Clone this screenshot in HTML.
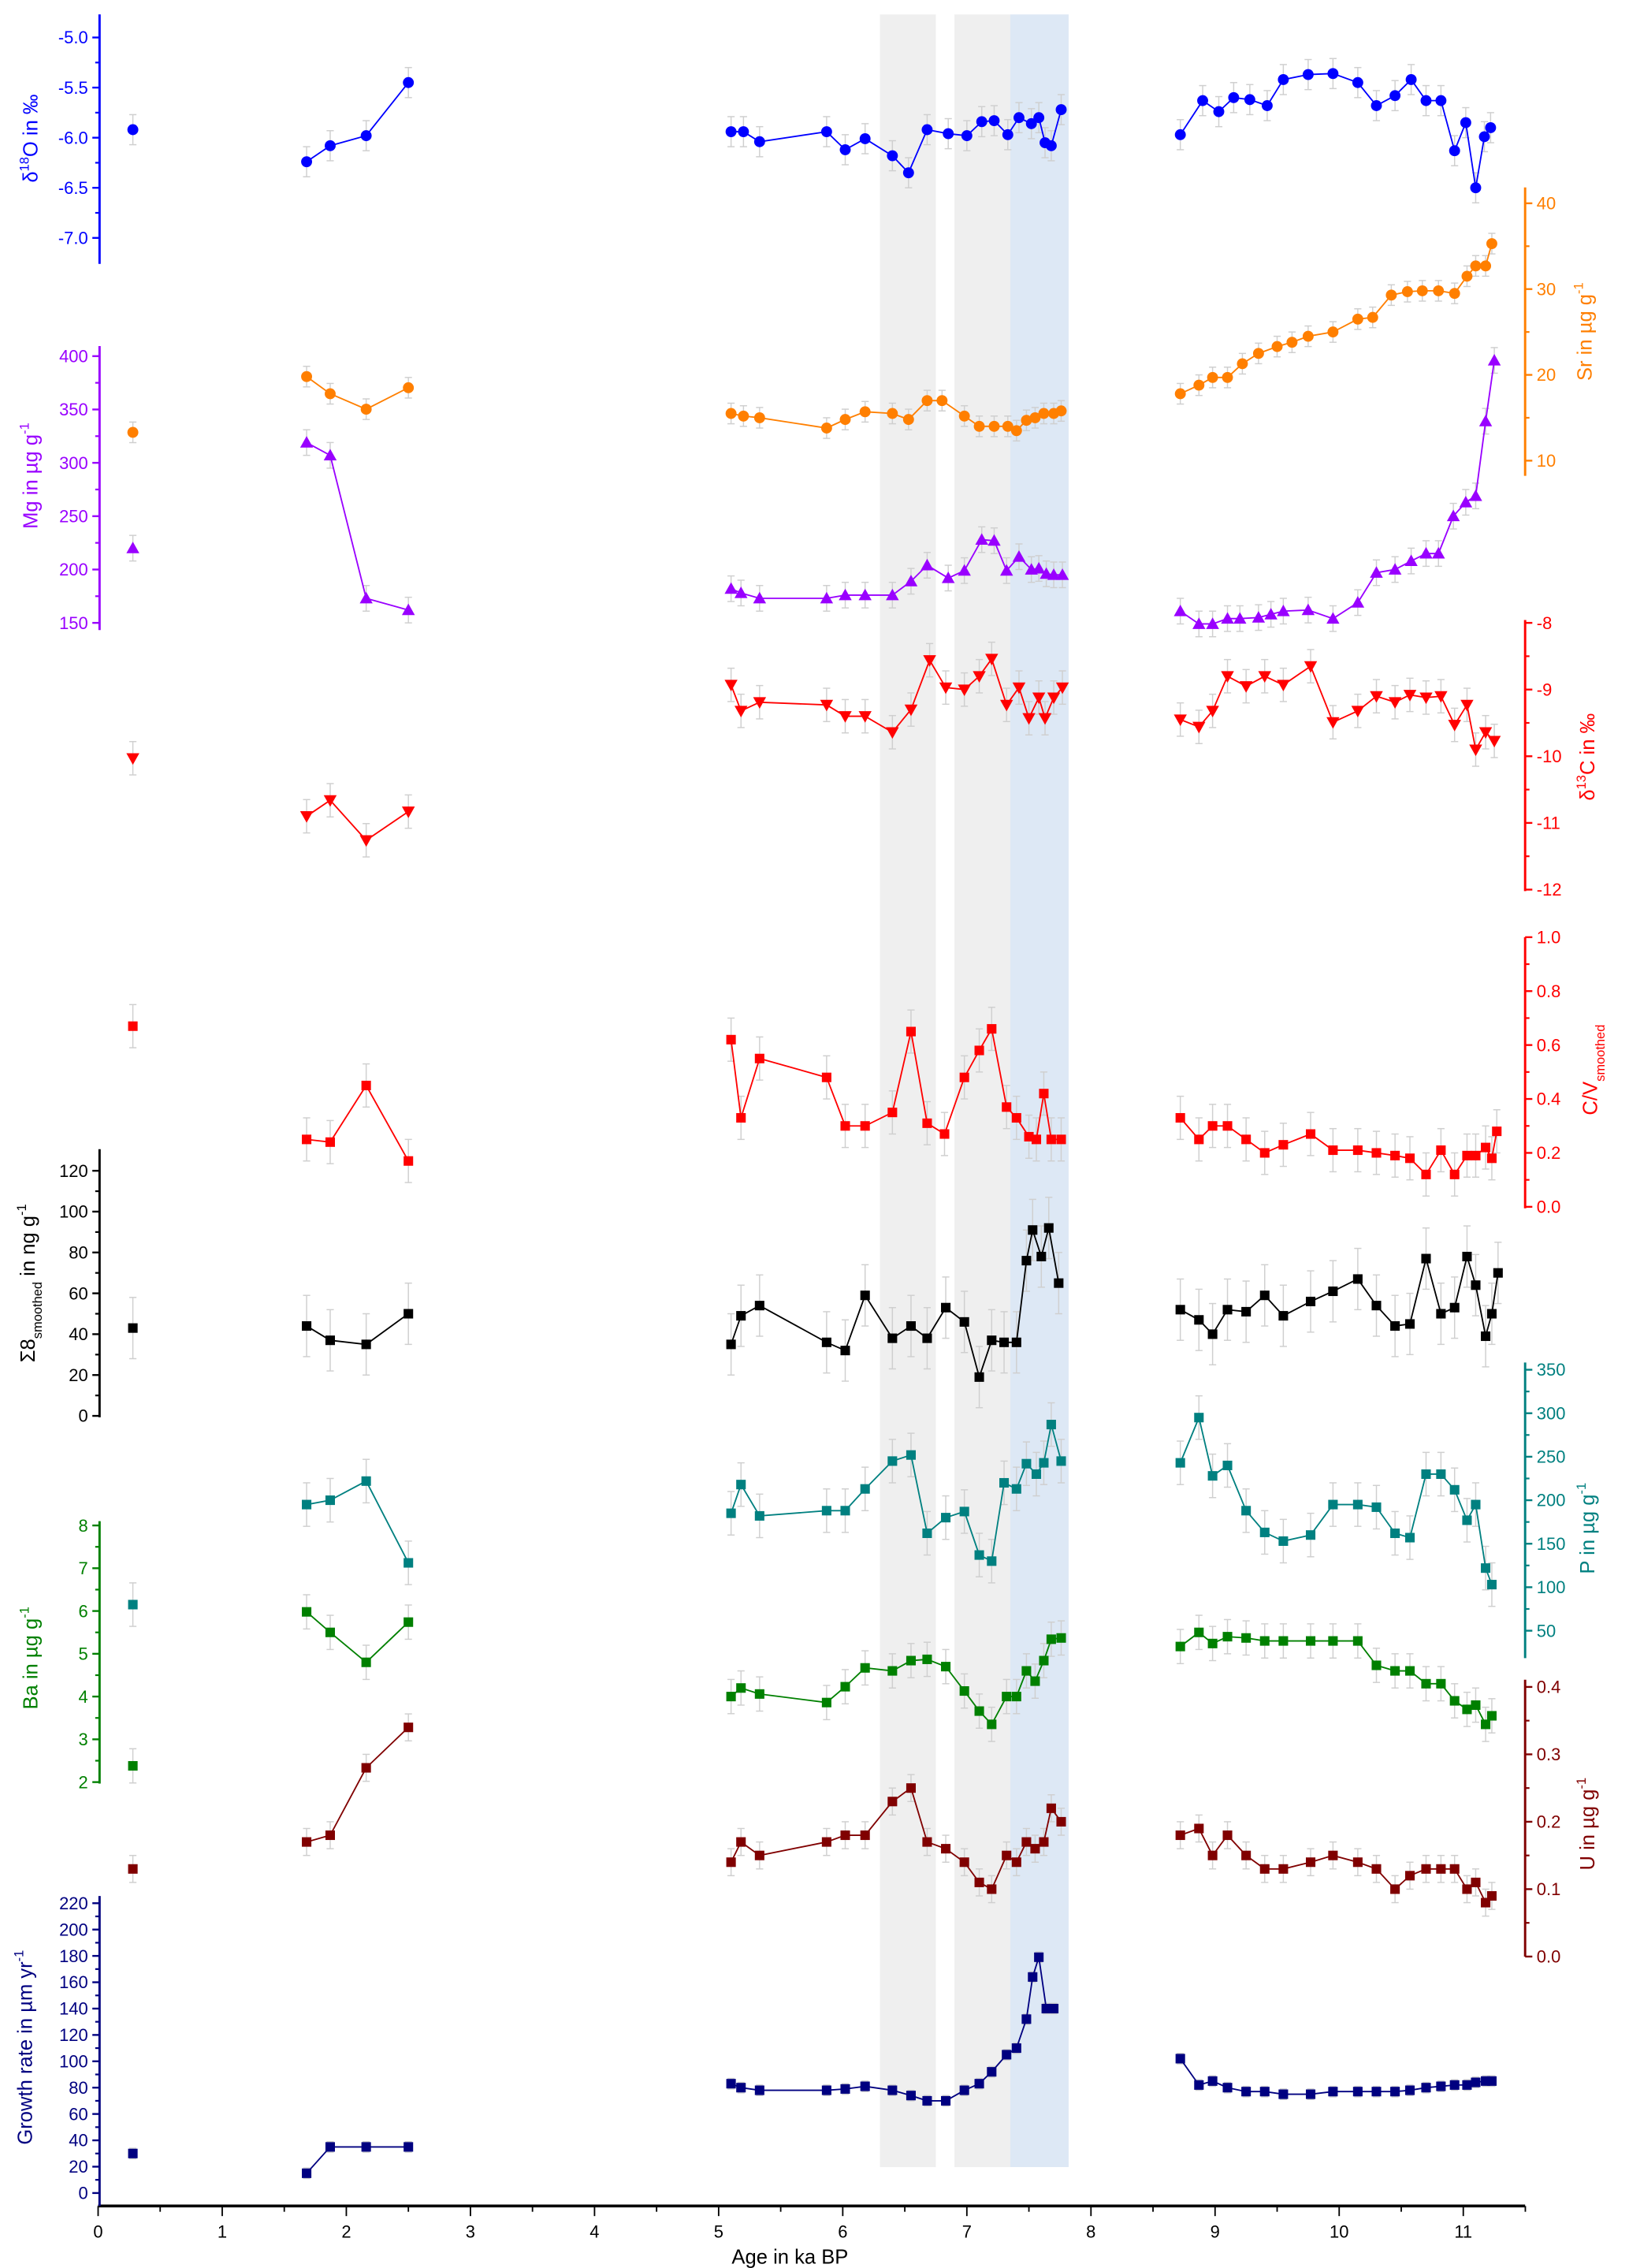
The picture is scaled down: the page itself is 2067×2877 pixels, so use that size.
<!DOCTYPE html>
<html><head><meta charset="utf-8"><style>
html,body{margin:0;padding:0;background:#fff}
svg{display:block}
text{font-family:"Liberation Sans",sans-serif}
</style></head><body>
<svg id="chart" xmlns="http://www.w3.org/2000/svg" width="2067" height="2877" viewBox="0 0 1130 1573"></svg>
<script>
// ===== data =====
const gA1=[0.28,1.68,1.87,2.16,2.5];
const d18Ages=[0.28,1.68,1.87,2.16,2.5,5.1,5.2,5.33,5.87,6.02,6.18,6.4,6.53,6.68,6.85,7.0,7.12,7.22,7.33,7.42,7.52,7.58,7.63,7.68,7.76,8.72,8.9,9.03,9.15,9.28,9.42,9.55,9.75,9.95,10.15,10.3,10.45,10.58,10.7,10.82,10.93,11.02,11.1,11.17,11.22];
const d18Vals=[-5.92,-6.24,-6.08,-5.98,-5.45,-5.94,-5.94,-6.04,-5.94,-6.12,-6.01,-6.18,-6.35,-5.92,-5.96,-5.98,-5.84,-5.83,-5.97,-5.8,-5.86,-5.8,-6.05,-6.08,-5.72,-5.97,-5.63,-5.74,-5.6,-5.62,-5.68,-5.42,-5.37,-5.36,-5.45,-5.68,-5.58,-5.42,-5.63,-5.63,-6.13,-5.85,-6.5,-5.99,-5.9];
const srAges=[0.28,1.68,1.87,2.16,2.5,5.1,5.2,5.33,5.87,6.02,6.18,6.4,6.53,6.68,6.8,6.98,7.1,7.22,7.33,7.4,7.48,7.55,7.62,7.7,7.76,8.72,8.87,8.98,9.1,9.22,9.35,9.5,9.62,9.75,9.95,10.15,10.27,10.42,10.55,10.67,10.8,10.93,11.03,11.1,11.18,11.23];
const srVals=[13.3,19.8,17.8,16,18.5,15.5,15.2,15,13.8,14.8,15.7,15.5,14.8,17,17,15.2,14,14,14,13.5,14.7,15,15.5,15.5,15.8,17.8,18.8,19.7,19.7,21.3,22.5,23.3,23.8,24.5,25,26.5,26.7,29.3,29.7,29.8,29.8,29.5,31.5,32.7,32.7,35.3];
const mgAges=[0.28,1.68,1.87,2.16,2.5,5.1,5.18,5.33,5.87,6.02,6.18,6.4,6.55,6.68,6.85,6.98,7.12,7.22,7.32,7.42,7.52,7.58,7.64,7.7,7.77,8.72,8.87,8.98,9.1,9.2,9.35,9.45,9.55,9.75,9.95,10.15,10.3,10.45,10.58,10.7,10.8,10.92,11.02,11.1,11.18,11.25];
const mgVals=[220,319,307,173,162,182,178,173,173,176,176,176,189,204,192,199,228,227,199,212,200,201,196,195,195,161,149,149,154,154,155,158,161,162,154,169,197,200,208,215,215,250,263,269,339,396];
const c13Ages=[0.28,1.68,1.87,2.16,2.5,5.1,5.18,5.33,5.87,6.02,6.18,6.4,6.55,6.7,6.83,6.98,7.1,7.2,7.32,7.42,7.5,7.58,7.63,7.7,7.77,8.72,8.87,8.98,9.1,9.25,9.4,9.55,9.77,9.95,10.15,10.3,10.45,10.57,10.7,10.82,10.93,11.03,11.1,11.18,11.25];
const c13Vals=[-10.03,-10.9,-10.66,-11.26,-10.83,-8.93,-9.32,-9.19,-9.23,-9.4,-9.4,-9.64,-9.3,-8.56,-8.97,-9.0,-8.8,-8.54,-9.23,-8.97,-9.43,-9.12,-9.43,-9.12,-8.97,-9.45,-9.56,-9.32,-8.8,-8.95,-8.8,-8.93,-8.65,-9.49,-9.32,-9.1,-9.19,-9.08,-9.12,-9.1,-9.53,-9.23,-9.9,-9.64,-9.77];
const cvAges=[0.28,1.68,1.87,2.16,2.5,5.1,5.18,5.33,5.87,6.02,6.18,6.4,6.55,6.68,6.82,6.98,7.1,7.2,7.32,7.4,7.5,7.56,7.62,7.68,7.76,8.72,8.87,8.98,9.1,9.25,9.4,9.55,9.77,9.95,10.15,10.3,10.45,10.57,10.7,10.82,10.93,11.03,11.1,11.18,11.23,11.27];
const cvVals=[0.67,0.25,0.24,0.45,0.17,0.62,0.33,0.55,0.48,0.3,0.3,0.35,0.65,0.31,0.27,0.48,0.58,0.66,0.37,0.33,0.26,0.25,0.42,0.25,0.25,0.33,0.25,0.3,0.3,0.25,0.2,0.23,0.27,0.21,0.21,0.2,0.19,0.18,0.12,0.21,0.12,0.19,0.19,0.22,0.18,0.28];
const s8Ages=[0.28,1.68,1.87,2.16,2.5,5.1,5.18,5.33,5.87,6.02,6.18,6.4,6.55,6.68,6.83,6.98,7.1,7.2,7.3,7.4,7.48,7.53,7.6,7.66,7.74,8.72,8.87,8.98,9.1,9.25,9.4,9.55,9.77,9.95,10.15,10.3,10.45,10.57,10.7,10.82,10.93,11.03,11.1,11.18,11.23,11.28];
const s8Vals=[43,44,37,35,50,35,49,54,36,32,59,38,44,38,53,46,19,37,36,36,76,91,78,92,65,52,47,40,52,51,59,49,56,61,67,54,44,45,77,50,53,78,64,39,50,70];
const pAges=[0.28,1.68,1.87,2.16,2.5,5.1,5.18,5.33,5.87,6.02,6.18,6.4,6.55,6.68,6.83,6.98,7.1,7.2,7.3,7.4,7.48,7.56,7.62,7.68,7.76,8.72,8.87,8.98,9.1,9.25,9.4,9.55,9.77,9.95,10.15,10.3,10.45,10.57,10.7,10.82,10.93,11.03,11.1,11.18,11.23];
const pVals=[80,195,200,222,128,185,218,182,188,188,213,245,252,162,180,187,137,130,220,213,242,230,243,287,245,243,295,228,240,188,163,153,160,195,195,192,162,157,230,230,212,177,195,122,103];
const baAges=[0.28,1.68,1.87,2.16,2.5,5.1,5.18,5.33,5.87,6.02,6.18,6.4,6.55,6.68,6.83,6.98,7.1,7.2,7.32,7.4,7.48,7.55,7.62,7.68,7.76,8.72,8.87,8.98,9.1,9.25,9.4,9.55,9.77,9.95,10.15,10.3,10.45,10.57,10.7,10.82,10.93,11.03,11.1,11.18,11.23];
const baVals=[2.38,5.98,5.5,4.8,5.74,4.0,4.2,4.06,3.86,4.23,4.67,4.6,4.84,4.87,4.7,4.13,3.66,3.35,4.0,4.0,4.6,4.36,4.84,5.34,5.37,5.17,5.5,5.24,5.4,5.37,5.3,5.3,5.3,5.3,5.3,4.73,4.6,4.6,4.3,4.3,3.9,3.7,3.8,3.35,3.55];
const uAges=baAges;
const uVals=[0.13,0.17,0.18,0.28,0.34,0.14,0.17,0.15,0.17,0.18,0.18,0.23,0.25,0.17,0.16,0.14,0.11,0.10,0.15,0.14,0.17,0.16,0.17,0.22,0.2,0.18,0.19,0.15,0.18,0.15,0.13,0.13,0.14,0.15,0.14,0.13,0.10,0.12,0.13,0.13,0.13,0.10,0.11,0.08,0.09];
const grAges=[0.28,1.68,1.87,2.16,2.5,5.1,5.18,5.33,5.87,6.02,6.18,6.4,6.55,6.68,6.83,6.98,7.1,7.2,7.32,7.4,7.48,7.53,7.58,7.64,7.7,8.72,8.87,8.98,9.1,9.25,9.4,9.55,9.77,9.95,10.15,10.3,10.45,10.57,10.7,10.82,10.93,11.03,11.1,11.18,11.23];
const grVals=[30,15,35,35,35,83,80,78,78,79,81,78,74,70,70,78,83,92,105,110,132,164,179,140,140,102,82,85,80,77,77,75,75,77,77,77,77,78,80,81,82,82,84,85,85];
const xTicks=[0,1,2,3,4,5,6,7,8,9,10,11];
const bandStarts=[6.3,6.9,7.35];
const bandEnds=[6.75,7.35,7.82];

// ===== layout =====
const svg=document.getElementById('chart');
const NS='http://www.w3.org/2000/svg';
const X0=68, KA=86.1;
function xs(a){return X0+a*KA;}
function mk(tag,attrs,parent){const e=document.createElementNS(NS,tag);for(const k in attrs)e.setAttribute(k,attrs[k]);(parent||svg).appendChild(e);return e;}

// bands
bandStarts.forEach((s,i)=>{
  const r=mk('rect',{x:xs(s),y:10,width:xs(bandEnds[i])-xs(s),height:1493,fill:i==2?'#dde8f5':'#efefef'});
  
  
});

// x axis
const xa=mk('g',{});


mk('line',{x1:68,y1:1530,x2:1058,y2:1530,stroke:'#000','stroke-width':2},xa);
for(let v=0;v<=11.5;v+=0.5){const M=Math.abs(v-Math.round(v))<1e-6;mk('line',{x1:xs(v),y1:1530,x2:xs(v),y2:M?1537:1534,stroke:'#000','stroke-width':1},xa);}
xTicks.forEach(v=>{const t=mk('text',{x:xs(v),y:1552,'font-size':12,'text-anchor':'middle'},xa);t.textContent=v;
  
  });
const xt=mk('text',{x:548,y:1570,'font-size':14,'text-anchor':'middle'});
xt.textContent='Age in ka BP';



// axis factory
function axis(o){
  const g=mk('g',{});
  
  
  const sc=v=>o.y0+(v-o.v0)*(o.y1-o.y0)/(o.v1-o.v0);
  mk('line',{x1:o.x,y1:o.top,x2:o.x,y2:o.bot,stroke:o.color,'stroke-width':1.6},g);
  const dir=o.side=='left'?-1:1;
  o.ticks.forEach(v=>{const y=sc(v);mk('line',{x1:o.x,y1:y,x2:o.x+dir*5,y2:y,stroke:o.color,'stroke-width':1.3},g);
    const t=mk('text',{x:o.x+dir*8,y:y+4.2,'font-size':12,fill:o.color,'text-anchor':o.side=='left'?'end':'start'},g);
    t.textContent=o.fmt(v);});
  for(let i=0;i<o.ticks.length-1;i++){const y=sc((o.ticks[i]+o.ticks[i+1])/2);mk('line',{x1:o.x,y1:y,x2:o.x+dir*3,y2:y,stroke:o.color,'stroke-width':1.2},g);}
  const lt=mk('text',{x:o.lx,y:o.ly,'font-size':14,fill:o.color,'text-anchor':'middle',transform:`rotate(-90 ${o.lx} ${o.ly})`});
  lt.innerHTML=o.label;
  
  
  return sc;
}
function series(name,ages,vals,sc,color,shape,err){
  const g=mk('g',{});
  
  
  // error bars
  ages.forEach((a,i)=>{const x=xs(a),y1=sc(vals[i]+err),y2=sc(vals[i]-err);
    mk('line',{x1:x,y1:y1,x2:x,y2:y2,stroke:'#cfcfcf','stroke-width':0.8},g);
    mk('line',{x1:x-2.5,y1:y1,x2:x+2.5,y2:y1,stroke:'#cfcfcf','stroke-width':0.8},g);
    mk('line',{x1:x-2.5,y1:y2,x2:x+2.5,y2:y2,stroke:'#cfcfcf','stroke-width':0.8},g);});
  // lines broken on gaps
  let pts=[];
  const flush=()=>{if(pts.length>1)mk('polyline',{points:pts.join(' '),fill:'none',stroke:color,'stroke-width':1},g);pts=[];};
  ages.forEach((a,i)=>{if(i>0&&a-ages[i-1]>0.9)flush();pts.push(xs(a)+','+sc(vals[i]));});
  flush();
  ages.forEach((a,i)=>{const x=xs(a),y=sc(vals[i]);let m;
    if(shape=='circle')m=mk('circle',{cx:x,cy:y,r:3.8,fill:color},g);
    else if(shape=='square')m=mk('rect',{x:x-3.3,y:y-3.3,width:6.6,height:6.6,fill:color},g);
    else if(shape=='tri')m=mk('polygon',{points:`${x},${y-4.5} ${x-4.5},${y+3.5} ${x+4.5},${y+3.5}`,fill:color},g);
    else m=mk('polygon',{points:`${x},${y+4.5} ${x-4.5},${y-3.5} ${x+4.5},${y-3.5}`,fill:color},g);
    
    });
}
const f1=v=>v.toFixed(1), f0=v=>String(v);

const sO=axis({name:'d18o',side:'left',x:69,top:10,bot:183,v0:-5,y0:26,v1:-7,y1:165,color:'#0000ff',ticks:[-7,-6.5,-6,-5.5,-5],fmt:f1,lx:26,ly:96,label:'δ<tspan dy="-6" font-size="9">18</tspan><tspan dy="6">O in ‰</tspan>'});
series('d18o',d18Ages,d18Vals,sO,'#0000ff','circle',0.15);

const sSr=axis({name:'sr',side:'right',x:1058,top:130,bot:330,v0:20,y0:260,v1:40,y1:141,color:'#ff7f00',ticks:[10,20,30,40],fmt:f0,lx:1104,ly:230,label:'Sr in µg g<tspan dy="-6" font-size="9">-1</tspan>'});
const sMg=axis({name:'mg',side:'left',x:69,top:240,bot:437,v0:150,y0:432,v1:400,y1:247,color:'#9900ff',ticks:[150,200,250,300,350,400],fmt:f0,lx:26,ly:330,label:'Mg in µg g<tspan dy="-6" font-size="9">-1</tspan>'});
series('sr',srAges,srVals,sSr,'#ff7f00','circle',1.2);
series('mg',mgAges,mgVals,sMg,'#9900ff','tri',12);

const sC=axis({name:'d13c',side:'right',x:1058,top:430,bot:618,v0:-8,y0:432,v1:-12,y1:617,color:'#ff0000',ticks:[-12,-11,-10,-9,-8],fmt:f0,lx:1106,ly:525,label:'δ<tspan dy="-6" font-size="9">13</tspan><tspan dy="6">C in ‰</tspan>'});
series('d13c',c13Ages,c13Vals,sC,'#ff0000','dtri',0.25);

const sCV=axis({name:'cv',side:'right',x:1058,top:650,bot:838,v0:0,y0:837,v1:1,y1:650,color:'#ff0000',ticks:[0,0.2,0.4,0.6,0.8,1.0],fmt:f1,lx:1108,ly:742,label:'C/V<tspan dy="5" font-size="9">smoothed</tspan>'});
series('cv',cvAges,cvVals,sCV,'#ff0000','square',0.08);

const sS8=axis({name:'sigma8',side:'left',x:69,top:797,bot:983,v0:0,y0:982,v1:120,y1:812,color:'#000000',ticks:[0,20,40,60,80,100,120],fmt:f0,lx:24,ly:890,label:'Σ8<tspan dy="5" font-size="9">smoothed</tspan><tspan dy="-5"> in ng g</tspan><tspan dy="-6" font-size="9">-1</tspan>'});
series('sigma8',s8Ages,s8Vals,sS8,'#000000','square',15);

const sP=axis({name:'p',side:'right',x:1058,top:945,bot:1150,v0:350,y0:950,v1:50,y1:1131,color:'#008080',ticks:[50,100,150,200,250,300,350],fmt:f0,lx:1106,ly:1060,label:'P in µg g<tspan dy="-6" font-size="9">-1</tspan>'});
series('p',pAges,pVals,sP,'#008080','square',25);

const sBa=axis({name:'ba',side:'left',x:69,top:1055,bot:1237,v0:8,y0:1058,v1:2,y1:1236,color:'#008000',ticks:[2,3,4,5,6,7,8],fmt:f0,lx:26,ly:1150,label:'Ba in µg g<tspan dy="-6" font-size="9">-1</tspan>'});
series('ba',baAges,baVals,sBa,'#008000','square',0.4);

const sU=axis({name:'u',side:'right',x:1058,top:1165,bot:1357,v0:0,y0:1357,v1:0.4,y1:1170,color:'#800000',ticks:[0,0.1,0.2,0.3,0.4],fmt:f1,lx:1106,ly:1265,label:'U in µg g<tspan dy="-6" font-size="9">-1</tspan>'});
series('u',uAges,uVals,sU,'#800000','square',0.02);

const sG=axis({name:'growth-rate',side:'left',x:69,top:1315,bot:1530,v0:0,y0:1521,v1:220,y1:1320,color:'#000080',ticks:[0,20,40,60,80,100,120,140,160,180,200,220],fmt:f0,lx:22,ly:1420,label:'Growth rate in µm yr<tspan dy="-6" font-size="9">-1</tspan>'});
series('growth-rate',grAges,grVals,sG,'#000080','square',4);
</script>
</body></html>
